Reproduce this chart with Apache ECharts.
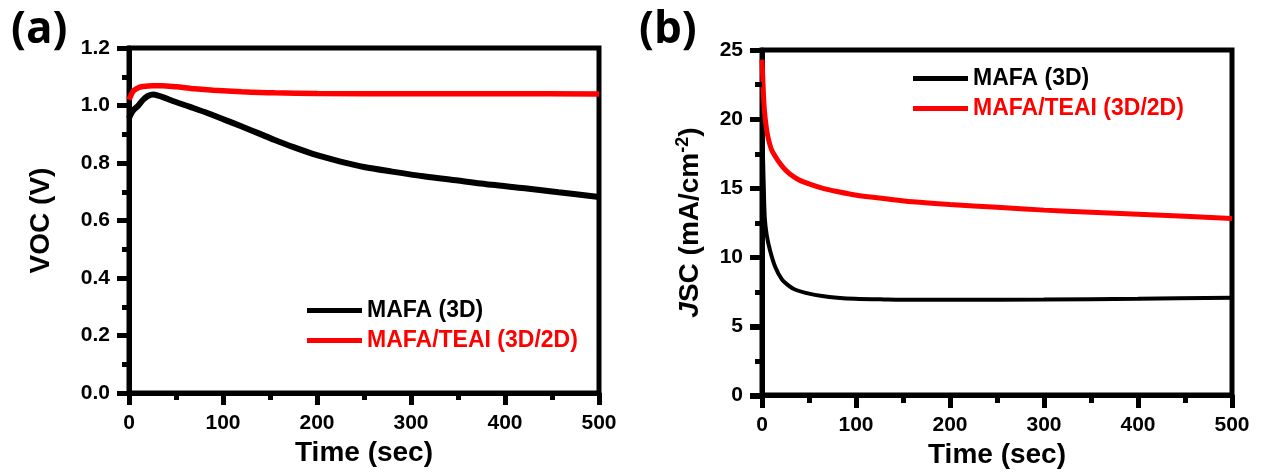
<!DOCTYPE html>
<html>
<head>
<meta charset="utf-8">
<title>Voc and Jsc stability</title>
<script src="https://cdn.jsdelivr.net/npm/echarts@6/dist/echarts.min.js"></script>
<style>
  html, body { margin: 0; padding: 0; background: #fff; }
  #chart { width: 1266px; height: 474px; }
</style>
</head>
<body>
<div id="chart"></div>
<script>
// Series names and colours
const seriesNames = ['MAFA (3D)', 'MAFA/TEAI (3D/2D)'];
const seriesColors = ['#000000', '#ff0000'];

// (a) open-circuit voltage vs time
const vocTime3D = [0, 2, 5, 10, 15, 20, 26, 35, 49, 65, 84, 102, 120, 138, 155, 175, 200, 225, 250, 280, 315, 350, 386, 421, 457, 500];
const voc3D     = [0.955, 0.97, 0.985, 1.00, 1.02, 1.033, 1.038, 1.030, 1.013, 0.995, 0.973, 0.950, 0.927, 0.903, 0.880, 0.855, 0.827, 0.805, 0.786, 0.770, 0.753, 0.739, 0.724, 0.712, 0.698, 0.682];
const vocTime2D = [0, 2, 5, 10, 15, 25, 35, 50, 70, 90, 120, 155, 200, 300, 400, 500];
const voc2D     = [1.02, 1.035, 1.052, 1.062, 1.066, 1.069, 1.069, 1.065, 1.058, 1.053, 1.048, 1.044, 1.042, 1.041, 1.041, 1.040];

// (b) short-circuit current density vs time
const jscTime3D = [0, 0.5, 1, 2, 3, 5, 8.5, 14, 21, 28, 35, 50, 64, 80, 99, 130, 160, 200, 300, 400, 500];
const jsc3D     = [21.0, 19.5, 17.5, 14.8, 12.8, 11.6, 10.5, 9.3, 8.4, 7.95, 7.65, 7.35, 7.18, 7.06, 6.98, 6.93, 6.9, 6.9, 6.92, 6.98, 7.05];
const jscTime2D = [0, 1, 2, 3, 5, 7, 10, 14, 20, 25, 30, 39, 50, 64, 80, 99, 134, 160, 200, 250, 300, 350, 400, 450, 500];
const jsc2D     = [24.3, 22.7, 21.2, 20.3, 19.2, 18.5, 17.8, 17.3, 16.7, 16.3, 16.0, 15.6, 15.3, 15.0, 14.75, 14.5, 14.2, 14.0, 13.8, 13.6, 13.4, 13.25, 13.1, 12.95, 12.8];

// Axis ranges (major interval; minor ticks sit halfway)
const timeRange = { min: 0, max: 500, interval: 100 };
const vocRange  = { min: 0, max: 1.2, interval: 0.2 };
const jscRange  = { min: 0, max: 25, interval: 5 };

const pair = (xs, ys) => xs.map((x, i) => [x, ys[i]]);
const FONT = '"Liberation Sans", Arial, sans-serif';
const LINE_W = 5;
const TICK_W = 5;
const MAJOR_LEN = 12;
const MINOR_LEN = 7;

// Plot boxes
const boxes = [
  { left: 129, top: 48, width: 470, height: 345 },
  { left: 762, top: 50, width: 470, height: 346 }
];

const grids = [], xAxes = [], yAxes = [];

function hiddenAxis(gridIndex) {
  return { type: 'value', gridIndex, show: false, splitLine: { show: false } };
}

// Outward tick marks: thin strip grids beside each axis whose split lines form the ticks
function addTickStrip(box, dir, range, interval, len) {
  const gi = grids.length;
  const ticks = {
    type: 'value', gridIndex: gi, min: range.min, max: range.max, interval, z: 10,
    axisLine: { show: false }, axisTick: { show: false }, axisLabel: { show: false },
    splitLine: { show: true, lineStyle: { color: '#000', width: TICK_W } }
  };
  if (dir === 'x') {
    grids.push({ left: box.left, top: box.top + box.height, width: box.width, height: len, show: false, z: 10 });
    xAxes.push(ticks);
    yAxes.push(hiddenAxis(gi));
  } else {
    grids.push({ left: box.left - len, top: box.top, width: len, height: box.height, show: false, z: 10 });
    yAxes.push(ticks);
    xAxes.push(hiddenAxis(gi));
  }
}

function mainXAxis(gridIndex) {
  return {
    type: 'value', gridIndex,
    min: timeRange.min, max: timeRange.max, interval: timeRange.interval,
    name: 'Time (sec)', nameLocation: 'middle', nameGap: 45,
    nameTextStyle: { fontFamily: FONT, fontWeight: 'bold', fontSize: 28, color: '#000' },
    axisLine: { show: true, onZero: false, lineStyle: { color: '#000', width: LINE_W } },
    axisTick: { show: true, length: MAJOR_LEN, lineStyle: { color: '#000', width: TICK_W } },
    axisLabel: { margin: 20, fontFamily: FONT, fontWeight: 'bold', fontSize: 21, color: '#000' },
    splitLine: { show: false }
  };
}

function mainYAxis(gridIndex, range, digits, name, nameGap, rich) {
  return {
    type: 'value', gridIndex,
    min: range.min, max: range.max, interval: range.interval,
    name, nameLocation: 'middle', nameGap,
    nameTextStyle: Object.assign({ fontFamily: FONT, fontWeight: 'bold', fontSize: 28, color: '#000' }, rich ? { rich } : {}),
    axisLine: { show: true, onZero: false, lineStyle: { color: '#000', width: LINE_W } },
    axisTick: { show: true, length: MAJOR_LEN, lineStyle: { color: '#000', width: TICK_W } },
    axisLabel: {
      margin: 19, fontFamily: FONT, fontWeight: 'bold', fontSize: 21, color: '#000',
      formatter: v => v.toFixed(digits)
    },
    splitLine: { show: false }
  };
}

// J italic, SC regular, exponent raised
const jscRich = {
  j:   { fontFamily: FONT, fontWeight: 'bold', fontStyle: 'italic', fontSize: 28, color: '#000' },
  n:   { fontFamily: FONT, fontWeight: 'bold', fontSize: 28, color: '#000' },
  sup: { fontFamily: FONT, fontWeight: 'bold', fontSize: 18, color: '#000', padding: [0, 0, 14, 0] }
};

// Main plot grids first (indices 0 and 1)
boxes.forEach(b => grids.push(Object.assign({ show: true, borderColor: '#000', borderWidth: LINE_W, backgroundColor: 'transparent' }, b)));
xAxes.push(mainXAxis(0), mainXAxis(1));
yAxes.push(
  mainYAxis(0, vocRange, 1, 'VOC (V)', 74),
  mainYAxis(1, jscRange, 0, '{j|J}{n|SC (mA/cm}{sup|-2}{n|)}', 56, jscRich)
);

// Tick strips: minor first, then major on top
[[boxes[0], vocRange], [boxes[1], jscRange]].forEach(([box, yr]) => {
  addTickStrip(box, 'x', timeRange, timeRange.interval / 2, MINOR_LEN);
  addTickStrip(box, 'x', timeRange, timeRange.interval, MAJOR_LEN);
  addTickStrip(box, 'y', yr, yr.interval / 2, MINOR_LEN);
  addTickStrip(box, 'y', yr, yr.interval, MAJOR_LEN);
});

function legendFor(left, top) {
  return {
    orient: 'vertical', left, top, itemGap: 7,
    itemWidth: 55, itemHeight: 5, icon: 'rect',
    textStyle: { fontFamily: FONT, fontWeight: 'bold', fontSize: 23 },
    data: seriesNames.map((n, i) => ({ name: n, textStyle: { color: seriesColors[i] } })),
    selectedMode: false
  };
}

function lineSeries(name, color, axisIndex, data, width) {
  return {
    name, type: 'line', xAxisIndex: axisIndex, yAxisIndex: axisIndex,
    data, showSymbol: false, smooth: 0.3, color,
    lineStyle: { color, width }, emphasis: { disabled: true }
  };
}

const chart = echarts.init(document.getElementById('chart'), null, { renderer: 'canvas' });
chart.setOption({
  animation: false,
  backgroundColor: '#fff',
  grid: grids,
  xAxis: xAxes,
  yAxis: yAxes,
  legend: [legendFor(302, 294), legendFor(908, 62)],
  series: [
    lineSeries(seriesNames[0], seriesColors[0], 0, pair(vocTime3D, voc3D), 6),
    lineSeries(seriesNames[1], seriesColors[1], 0, pair(vocTime2D, voc2D), 5.5),
    lineSeries(seriesNames[0], seriesColors[0], 1, pair(jscTime3D, jsc3D), 4),
    lineSeries(seriesNames[1], seriesColors[1], 1, pair(jscTime2D, jsc2D), 5)
  ],
  graphic: [
    { type: 'text', left: 11, top: 8, style: { text: '(a)', fontFamily: '"Open Sans", sans-serif', fontWeight: 'bold', fontSize: 44, fill: '#000' } },
    { type: 'text', left: 639, top: 8, style: { text: '(b)', fontFamily: '"Open Sans", sans-serif', fontWeight: 'bold', fontSize: 44, fill: '#000' } }
  ]
});
</script>
</body>
</html>
